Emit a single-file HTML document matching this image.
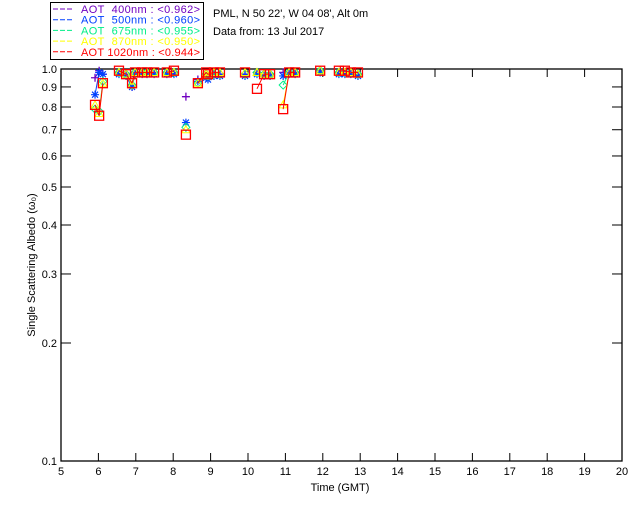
<!DOCTYPE html>
<html><head><meta charset="utf-8"><style>
body{margin:0;background:#fff;width:640px;height:512px;overflow:hidden}
svg{display:block;font-family:"Liberation Sans",sans-serif}
</style></head><body>
<svg id="chart" width="640" height="512" viewBox="0 0 640 512" xmlns="http://www.w3.org/2000/svg">
<rect x="0" y="0" width="640" height="512" fill="#fff"/>
<g id="legend">
<rect x="50.5" y="2.5" width="153" height="57" fill="none" stroke="#000"/>
</g>
<text x="213" y="17" font-size="11">PML, N 50 22', W 04 08', Alt 0m</text>
<text x="213" y="35" font-size="11">Data from: 13 Jul 2017</text>
<text x="340" y="491" font-size="11" text-anchor="middle">Time (GMT)</text>
<text transform="translate(35,265) rotate(-90)" font-size="11" text-anchor="middle">Single Scattering Albedo (ω₀)</text>
<g id="axes"></g>
<g id="marks"></g>
</svg>
<script>
const xTicks=[5,6,7,8,9,10,11,12,13,14,15,16,17,18,19,20];
const yTicks=[0.1,0.2,0.3,0.4,0.5,0.6,0.7,0.8,0.9,1.0];
const yTickLabels=["0.1","0.2","0.3","0.4","0.5","0.6","0.7","0.8","0.9","1.0"];
const seriesNames=["AOT\u00a0\u00a0400nm : <0.962>","AOT\u00a0\u00a0500nm : <0.960>","AOT\u00a0\u00a0675nm : <0.955>","AOT\u00a0\u00a0870nm : <0.950>","AOT 1020nm : <0.944>"];
const times=[5.91,6.02,6.12,6.55,6.74,6.90,6.98,7.17,7.30,7.49,7.83,8.02,8.34,8.66,8.88,8.93,9.09,9.25,9.92,10.24,10.43,10.59,10.94,11.10,11.26,11.93,12.43,12.59,12.75,12.94];
const v400=[0.95,0.99,0.97,0.98,0.97,0.90,0.98,0.98,0.98,0.98,0.98,0.98,0.85,0.94,0.96,0.95,0.97,0.97,0.97,0.98,0.97,0.97,0.98,0.98,0.98,0.99,0.98,0.98,0.98,0.97];
const v500=[0.86,0.98,0.97,0.97,0.96,0.90,0.97,0.97,0.97,0.97,0.97,0.97,0.73,0.93,0.95,0.94,0.96,0.96,0.96,0.97,0.96,0.96,0.96,0.97,0.97,0.98,0.97,0.97,0.97,0.96];
const v675=[0.79,0.78,0.93,0.98,0.97,0.91,0.98,0.98,0.98,0.98,0.98,0.98,0.71,0.92,0.97,0.96,0.97,0.97,0.97,0.98,0.97,0.97,0.91,0.98,0.98,0.99,0.98,0.98,0.98,0.97];
const v870=[0.81,0.77,0.92,0.98,0.97,0.91,0.98,0.98,0.98,0.98,0.98,0.98,0.70,0.92,0.97,0.96,0.98,0.98,0.98,0.98,0.97,0.97,0.81,0.98,0.98,0.99,0.98,0.98,0.98,0.97];
const v1020=[0.81,0.76,0.92,0.99,0.97,0.92,0.98,0.98,0.98,0.98,0.98,0.99,0.68,0.92,0.98,0.97,0.98,0.98,0.98,0.89,0.97,0.97,0.79,0.98,0.98,0.99,0.99,0.99,0.98,0.98];
const seriesValues=[v400,v500,v675,v870,v1020];
const colors=["#7000c0","#0040ff","#00ee88","#ffff00","#ff0000"];
const L=61,R=622,T=69,B=461,GAP=0.25;
const xs=h=>L+(h-5)*(R-L)/15;
const ys=v=>B-(Math.log10(v)+1)*(B-T);
const NS="http://www.w3.org/2000/svg";
function mk(tag,attrs,parent){const e=document.createElementNS(NS,tag);for(const k in attrs)e.setAttribute(k,attrs[k]);parent.appendChild(e);return e;}
const axes=document.getElementById('axes'),marks=document.getElementById('marks'),leg=document.getElementById('legend');
const frame=mk('rect',{x:L,y:T,width:R-L,height:B-T,fill:'none',stroke:'#000','stroke-width':1.3},axes);


xTicks.forEach(t=>{
  const x=xs(t);
  const a=mk('line',{x1:x,x2:x,y1:B,y2:B-8,stroke:'#000'},axes);
  
  
  const b=mk('line',{x1:x,x2:x,y1:T,y2:T+8,stroke:'#000'},axes);
  
  
  const tx=mk('text',{x:x,y:B+14,'font-size':11,'text-anchor':'middle'},axes);tx.textContent=t;
  
  
});
yTicks.forEach((t,i)=>{
  const y=ys(t);
  const a=mk('line',{x1:L,x2:L+10,y1:y,y2:y,stroke:'#000'},axes);
  
  
  const b=mk('line',{x1:R,x2:R-10,y1:y,y2:y,stroke:'#000'},axes);
  
  
  const tx=mk('text',{x:57,y:y+4,'font-size':11,'text-anchor':'end'},axes);tx.textContent=yTickLabels[i];
  
  
});
function marker(k,x,y,c,g){
  const s=4;
  if(k===0){mk('path',{d:`M${x-s},${y}H${x+s}M${x},${y-s}V${y+s}`,stroke:c,'stroke-width':1.3,fill:'none'},g);}
  else if(k===1){mk('path',{d:`M${x-s},${y}H${x+s}M${x},${y-s}V${y+s}M${x-3},${y-3}L${x+3},${y+3}M${x-3},${y+3}L${x+3},${y-3}`,stroke:c,'stroke-width':1.2,fill:'none'},g);}
  else if(k===2){mk('path',{d:`M${x},${y-s}L${x+s},${y}L${x},${y+s}L${x-s},${y}Z`,stroke:c,fill:'none'},g);}
  else if(k===3){mk('path',{d:`M${x},${y-s}L${x+s},${y+3}L${x-s},${y+3}Z`,stroke:c,fill:'none'},g);}
  else {mk('rect',{x:x-4.5,y:y-4.5,width:9,height:9,stroke:c,'stroke-width':1.3,fill:'none'},g);}
}
seriesValues.forEach((vals,k)=>{
  const g=mk('g',{},marks);
  
  
  for(let i=1;i<vals.length;i++){
    if(times[i]-times[i-1]>GAP)continue;
    const seg=mk('line',{x1:xs(times[i-1]),y1:ys(vals[i-1]),x2:xs(times[i]),y2:ys(vals[i]),stroke:colors[k],'stroke-width':1},g);
    
    
  }
  vals.forEach((v,i)=>marker(k,xs(times[i]),ys(v),colors[k],g));
  const ly=13+k*10.7;
  const ll=mk('line',{x1:53,x2:73,y1:ly-4,y2:ly-4,stroke:colors[k],'stroke-dasharray':'5,2'},leg);
  
  
  const lt=mk('text',{x:81,y:ly,'font-size':11,fill:colors[k],textLength:119,lengthAdjust:'spacing'},leg);
  lt.textContent=seriesNames[k];
  
  
});
</script>
</body></html>
